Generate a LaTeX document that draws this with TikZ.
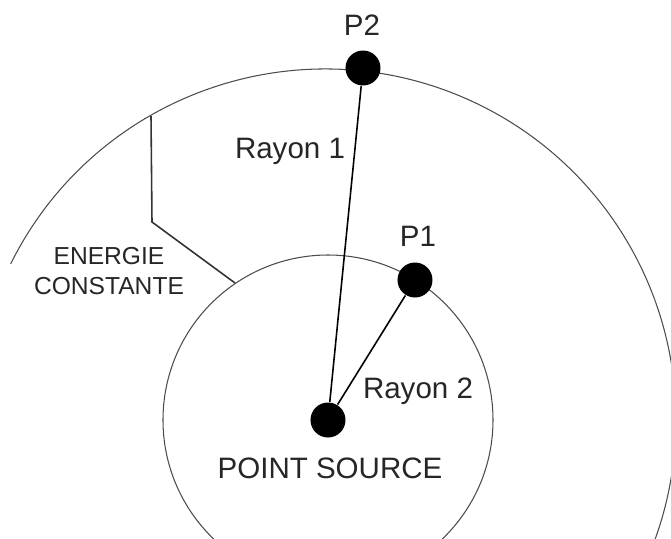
\documentclass[tikz,border=0pt]{standalone}
\usepackage{fontspec}
\setmainfont{Liberation Sans}
\begin{document}
\begin{tikzpicture}[x=0.1mm,y=0.1mm,
    dot/.style={circle,fill=black,inner sep=0pt,minimum size=3.5mm},
    lbl/.style={font=\fontsize{8.4}{10}\selectfont,text=black!85},
    wave/.style={draw=black!70,line width=0.3pt},
    ray/.style={draw=black,line width=0.45pt}]
    \useasboundingbox (0,0) rectangle (671,538);
    \clip (0,0) rectangle (671,538);
    % Wave fronts
    \draw[wave] (328,118) circle (165);
    \draw[wave] (325,118) ++(153.6:351) arc(153.6:-30:351);
    % Points
    \node[dot] (src) at (328,118) {};
    \node[dot] (p1) at (415,258) {};
    \node[dot] (p2) at (363,470) {};
    % Rays
    \draw[ray] (src) -- (p2);
    \draw[ray] (src) -- (p1);
    % Labels
    \node[lbl] (lp2) at (362,513) {P2};
    \node[lbl] (lp1) at (418,302) {P1};
    \node[lbl] (r1) at (290,387) {Rayon 1};
    \node[lbl] (r2) at (418,147) {Rayon 2};
    \node[lbl] (ps) at (330,70) {POINT SOURCE};
    \node[lbl,font=\fontsize{7}{8.3}\selectfont,align=center] (ec) at (109,267) {ENERGIE\\CONSTANTE};
    % Leader for constant energy
    \coordinate (e1) at (151,422);
    \coordinate (e2) at (152,316);
    \coordinate (e3) at (235,255);
    \draw[ray,draw=black!80] (e1) -- (e2) -- (e3);
\end{tikzpicture}
\end{document}
